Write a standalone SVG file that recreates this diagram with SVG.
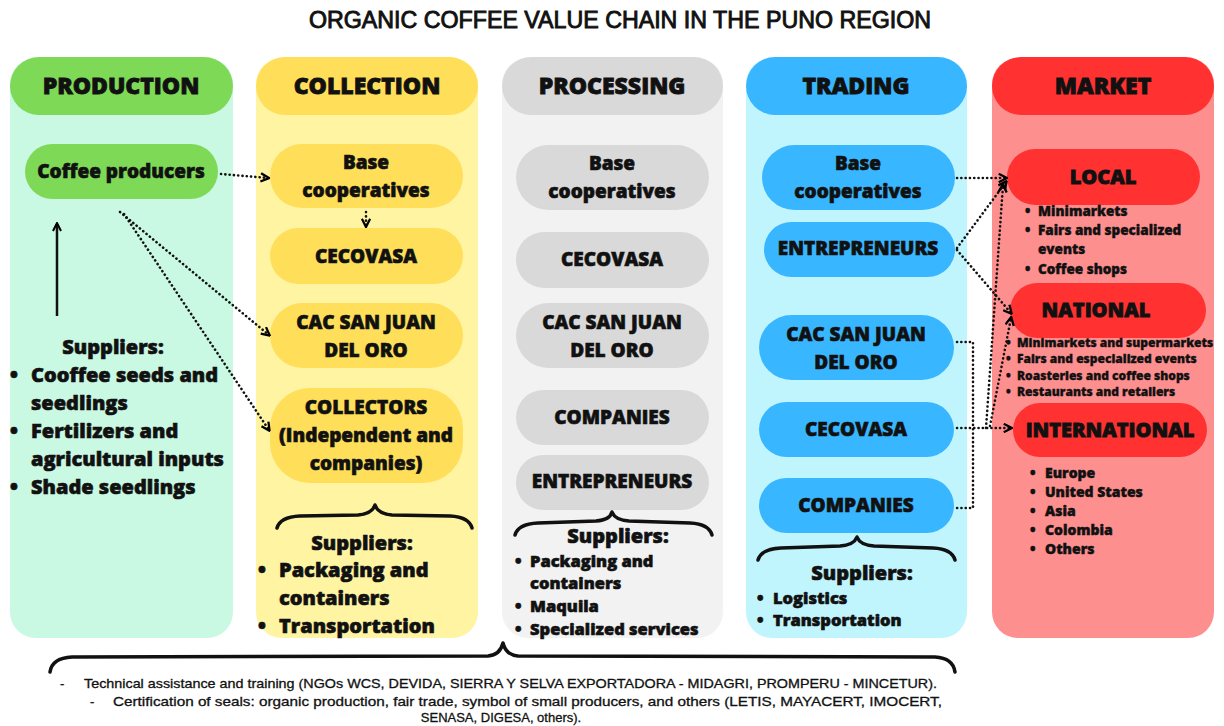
<svg xmlns="http://www.w3.org/2000/svg" width="1224" height="726" viewBox="0 0 1224 726">
  <defs>
    <marker id="head" viewBox="0 0 10 10" refX="8" refY="5" markerWidth="4" markerHeight="4" orient="auto" markerUnits="strokeWidth">
      <path d="M1,1 L9,5 L1,9" fill="none" stroke="#000" stroke-width="2.2"/>
    </marker>
    <marker id="solidhead" viewBox="0 0 10 10" refX="8" refY="5" markerWidth="4" markerHeight="4" orient="auto" markerUnits="strokeWidth">
      <path d="M1,1 L9,5 L1,9" fill="none" stroke="#000" stroke-width="2"/>
    </marker>
  </defs>
  <style>
    .t { font-family: "Open Sans", "DejaVu Sans", sans-serif; font-weight: 800; fill: #111; stroke: #111; stroke-width: 0.6px; }
    .hd { font-size: 23px; text-anchor: middle; stroke-width: 0.8px; }
    .nd { font-size: 19px; text-anchor: middle; }
    .sup { font-size: 20px; }
    .sm { font-size: 16.5px; }
    .mk { font-size: 13.5px; stroke-width: 0.4px; }
    .mk2 { font-size: 12px; stroke-width: 0.35px; }
    .mk3 { font-size: 14px; stroke-width: 0.45px; }
    .note { font-family: "Liberation Sans Narrow", "Liberation Sans", sans-serif; font-size: 13px; fill: #111; stroke: #111; stroke-width: 0.3px; }
    .brace { fill: none; stroke: #111; stroke-width: 3.5; stroke-linecap: round; stroke-linejoin: round; }
    .dot { fill: none; stroke: #111; stroke-width: 2.6; stroke-dasharray: 0.1 4.2; stroke-linecap: round; stroke-linejoin: round; }
    .pill-g { fill: #7ed957; }
    .pill-y { fill: #ffde59; }
    .pill-s { fill: #d9d9d9; }
    .pill-b { fill: #38b6ff; }
    .pill-r { fill: #ff3131; }
  </style>

  <rect width="1224" height="726" fill="#ffffff"/>

  <text x="620" y="28" font-family="Liberation Sans Narrow, Liberation Sans, sans-serif" font-size="23" text-anchor="middle" fill="#111" stroke="#111" stroke-width="0.9" textLength="622" lengthAdjust="spacingAndGlyphs">ORGANIC COFFEE VALUE CHAIN IN THE PUNO REGION</text>

  <!-- column panels -->
  <g id="col-production">
    <rect x="10" y="58" width="223" height="580" rx="26" fill="#c9f8e3"/>
    <rect x="10" y="57" width="223" height="58" rx="29" class="pill-g"/>
    <text x="121" y="94" class="t hd">PRODUCTION</text>
  </g>
  <g id="col-collection">
    <rect x="256" y="58" width="222" height="580" rx="26" fill="#fff4a2"/>
    <rect x="256" y="57" width="222" height="58" rx="29" class="pill-y"/>
    <text x="367" y="94" class="t hd">COLLECTION</text>
  </g>
  <g id="col-processing">
    <rect x="502" y="58" width="221" height="580" rx="26" fill="#f2f2f2"/>
    <rect x="502" y="57" width="221" height="58" rx="29" class="pill-s"/>
    <text x="612" y="94" class="t hd">PROCESSING</text>
  </g>
  <g id="col-trading">
    <rect x="746" y="58" width="221" height="580" rx="26" fill="#c1f5fe"/>
    <rect x="746" y="57" width="221" height="58" rx="29" class="pill-b"/>
    <text x="856" y="94" class="t hd">TRADING</text>
  </g>
  <g id="col-market">
    <rect x="992" y="58" width="222" height="580" rx="26" fill="#fe8f8f"/>
    <rect x="992" y="57" width="222" height="58" rx="29" class="pill-r"/>
    <text x="1103" y="94" class="t hd">MARKET</text>
  </g>

  <!-- production -->
  <g id="coffee-producers">
    <rect x="25" y="144" width="193" height="55" rx="27.5" class="pill-g"/>
    <text x="121" y="178" class="t nd">Coffee producers</text>
  </g>
  <g id="production-suppliers">
    <text x="113" y="354" class="t sup" text-anchor="middle">Suppliers:</text>
    <text class="t sup">
      <tspan x="10" y="382">•</tspan><tspan x="31" y="382">Cooffee seeds and</tspan>
      <tspan x="31" y="410">seedlings</tspan>
      <tspan x="10" y="438">•</tspan><tspan x="31" y="438">Fertilizers and</tspan>
      <tspan x="31" y="466">agricultural inputs</tspan>
      <tspan x="10" y="494">•</tspan><tspan x="31" y="494">Shade seedlings</tspan>
    </text>
  </g>

  <!-- collection -->
  <g id="col-base-coop">
    <rect x="270" y="144" width="193" height="64" rx="32" class="pill-y"/>
    <text x="366" y="169" class="t nd">Base</text>
    <text x="366" y="197" class="t nd">cooperatives</text>
  </g>
  <g id="col-cecovasa">
    <rect x="270" y="228" width="193" height="56" rx="28" class="pill-y"/>
    <text x="366" y="263" class="t nd">CECOVASA</text>
  </g>
  <g id="col-cac">
    <rect x="270" y="303" width="193" height="65" rx="32.5" class="pill-y"/>
    <text x="366" y="329" class="t nd">CAC SAN JUAN</text>
    <text x="366" y="357" class="t nd">DEL ORO</text>
  </g>
  <g id="col-collectors">
    <rect x="270" y="388" width="193" height="95" rx="40" class="pill-y"/>
    <text x="366" y="414" class="t nd">COLLECTORS</text>
    <text x="366" y="442" class="t nd">(Independent and</text>
    <text x="366" y="470" class="t nd">companies)</text>
  </g>
  <g id="collection-suppliers">
    <path class="brace" d="M277,528 Q280,517 300,516 L358,515 Q372,514 375,505 Q378,514 392,515 L450,516 Q469,517 472,528"/>
    <text x="362" y="550" class="t sup" text-anchor="middle">Suppliers:</text>
    <text class="t sup">
      <tspan x="258" y="577">•</tspan><tspan x="279" y="577">Packaging and</tspan>
      <tspan x="279" y="605">containers</tspan>
      <tspan x="258" y="633">•</tspan><tspan x="279" y="633">Transportation</tspan>
    </text>
  </g>

  <!-- processing -->
  <g id="proc-base-coop">
    <rect x="516" y="145" width="193" height="65" rx="32.5" class="pill-s"/>
    <text x="612" y="170" class="t nd">Base</text>
    <text x="612" y="198" class="t nd">cooperatives</text>
  </g>
  <g id="proc-cecovasa">
    <rect x="516" y="232" width="193" height="56" rx="28" class="pill-s"/>
    <text x="612" y="266" class="t nd">CECOVASA</text>
  </g>
  <g id="proc-cac">
    <rect x="516" y="303" width="193" height="65" rx="32.5" class="pill-s"/>
    <text x="612" y="329" class="t nd">CAC SAN JUAN</text>
    <text x="612" y="357" class="t nd">DEL ORO</text>
  </g>
  <g id="proc-companies">
    <rect x="516" y="390" width="193" height="55" rx="27.5" class="pill-s"/>
    <text x="612" y="424" class="t nd">COMPANIES</text>
  </g>
  <g id="proc-entrepreneurs">
    <rect x="516" y="455" width="193" height="55" rx="27.5" class="pill-s"/>
    <text x="612" y="488" class="t nd">ENTREPRENEURS</text>
  </g>
  <g id="processing-suppliers">
    <path class="brace" d="M515,535 Q518,524 538,523 L596,521 Q610,520 612,512 Q615,520 629,521 L690,523 Q709,524 712,535"/>
    <text x="618" y="543" class="t sup" text-anchor="middle">Suppliers:</text>
    <text class="t sm">
      <tspan x="515" y="567">•</tspan><tspan x="530" y="567">Packaging and</tspan>
      <tspan x="530" y="589">containers</tspan>
      <tspan x="515" y="612">•</tspan><tspan x="530" y="612">Maquila</tspan>
      <tspan x="515" y="635">•</tspan><tspan x="530" y="635">Specialized services</tspan>
    </text>
  </g>

  <!-- trading -->
  <g id="trd-base-coop">
    <rect x="762" y="145" width="193" height="65" rx="32.5" class="pill-b"/>
    <text x="858" y="170" class="t nd">Base</text>
    <text x="858" y="198" class="t nd">cooperatives</text>
  </g>
  <g id="trd-entrepreneurs">
    <rect x="764" y="222" width="191" height="55" rx="27.5" class="pill-b"/>
    <text x="858" y="255" class="t nd">ENTREPRENEURS</text>
  </g>
  <g id="trd-cac">
    <rect x="759" y="315" width="195" height="65" rx="32.5" class="pill-b"/>
    <text x="856" y="341" class="t nd">CAC SAN JUAN</text>
    <text x="856" y="369" class="t nd">DEL ORO</text>
  </g>
  <g id="trd-cecovasa">
    <rect x="759" y="402" width="195" height="55" rx="27.5" class="pill-b"/>
    <text x="856" y="436" class="t nd">CECOVASA</text>
  </g>
  <g id="trd-companies">
    <rect x="759" y="478" width="195" height="55" rx="27.5" class="pill-b"/>
    <text x="856" y="512" class="t nd">COMPANIES</text>
  </g>
  <g id="trading-suppliers">
    <path class="brace" d="M758,560 Q761,549 781,548 L840,546 Q854,545 857,537 Q860,545 874,546 L933,548 Q952,549 955,560"/>
    <text x="862" y="580" class="t sup" text-anchor="middle">Suppliers:</text>
    <text class="t sm">
      <tspan x="757" y="604">•</tspan><tspan x="773" y="604">Logistics</tspan>
      <tspan x="757" y="626">•</tspan><tspan x="773" y="626">Transportation</tspan>
    </text>
  </g>

  <!-- market -->
  <g id="mkt-local">
    <rect x="1007" y="149" width="193" height="56" rx="28" class="pill-r"/>
    <text x="1103" y="184" class="t hd" style="font-size:20px">LOCAL</text>
    <text class="t mk">
      <tspan x="1025" y="216">•</tspan><tspan x="1038" y="216">Minimarkets</tspan>
      <tspan x="1025" y="235">•</tspan><tspan x="1038" y="235">Fairs and specialized</tspan>
      <tspan x="1038" y="254">events</tspan>
      <tspan x="1025" y="274">•</tspan><tspan x="1038" y="274">Coffee shops</tspan>
    </text>
  </g>
  <g id="mkt-national">
    <rect x="1010" y="283" width="196" height="55" rx="27.5" class="pill-r"/>
    <text x="1096" y="317" class="t hd" style="font-size:20px">NATIONAL</text>
    <text class="t mk2">
      <tspan x="1006" y="347">•</tspan><tspan x="1017" y="347">Minimarkets and supermarkets</tspan>
      <tspan x="1006" y="363">•</tspan><tspan x="1017" y="363">Fairs and  especialized events</tspan>
      <tspan x="1006" y="380">•</tspan><tspan x="1017" y="380">Roasteries and coffee shops</tspan>
      <tspan x="1006" y="396">•</tspan><tspan x="1017" y="396">Restaurants and retailers</tspan>
    </text>
  </g>
  <g id="mkt-international">
    <rect x="1013" y="403" width="194" height="54" rx="27" class="pill-r"/>
    <text x="1110" y="437" class="t hd" style="font-size:20px">INTERNATIONAL</text>
    <text class="t mk3">
      <tspan x="1030" y="478">•</tspan><tspan x="1045" y="478">Europe</tspan>
      <tspan x="1030" y="497">•</tspan><tspan x="1045" y="497">United States</tspan>
      <tspan x="1030" y="516">•</tspan><tspan x="1045" y="516">Asia</tspan>
      <tspan x="1030" y="535">•</tspan><tspan x="1045" y="535">Colombia</tspan>
      <tspan x="1030" y="554">•</tspan><tspan x="1045" y="554">Others</tspan>
    </text>
  </g>

  <!-- shared support actors -->
  <g id="support-actors">
    <path class="brace" d="M50,672 Q52,658 72,657 L488,656 Q500,655 503,643 Q506,655 518,656 L935,657 Q953,658 955,672"/>
    <text class="note">
      <tspan x="60" y="688">-</tspan>
      <tspan x="84" y="688" textLength="853" lengthAdjust="spacingAndGlyphs">Technical assistance and training (NGOs WCS, DEVIDA, SIERRA Y SELVA EXPORTADORA - MIDAGRI, PROMPERU - MINCETUR).</tspan>
    </text>
    <text class="note">
      <tspan x="90" y="706">-</tspan>
      <tspan x="113" y="706" textLength="829" lengthAdjust="spacingAndGlyphs">Certification of seals: organic production, fair trade, symbol of small producers, and others (LETIS, MAYACERT, IMOCERT,</tspan>
    </text>
    <text class="note" x="501" y="722" text-anchor="middle">SENASA, DIGESA, others).</text>
  </g>

  <!-- connectors -->
  <g id="connectors">
    <line x1="57" y1="316" x2="57" y2="224" stroke="#111" stroke-width="2.5" marker-end="url(#solidhead)"/>
    <path class="dot" d="M221,174 L268,178" marker-end="url(#head)"/>
    <path class="dot" d="M120,212 L269,335" marker-end="url(#head)"/>
    <path class="dot" d="M124,214 L269,430" marker-end="url(#head)"/>
    <path class="dot" d="M366,212 L366,226" marker-end="url(#head)"/>

    <path class="dot" d="M957,178 L1006,178" marker-end="url(#head)"/>
    <path class="dot" d="M957,248 L1006,182" marker-end="url(#head)"/>
    <path class="dot" d="M957,250 L1011,313" marker-end="url(#head)"/>
    <path class="dot" d="M957,342 L973,342 L973,508 L957,508"/>
    <path class="dot" d="M957,428 L1011,428" marker-end="url(#head)"/>
    <path class="dot" d="M986,428 L1003,185" marker-end="url(#head)"/>
    <path class="dot" d="M990,426 L1011,318" marker-end="url(#head)"/>
  </g>
</svg>
